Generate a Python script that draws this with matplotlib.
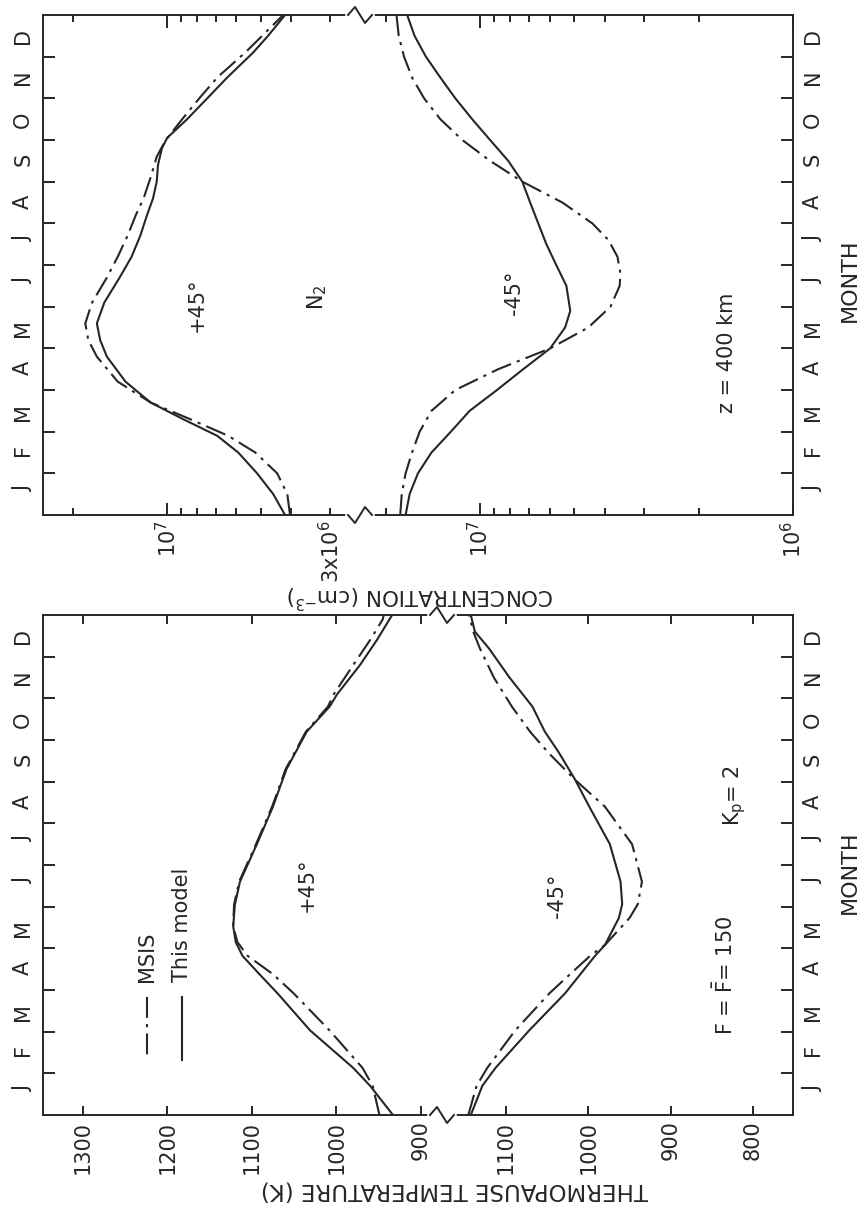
import numpy as np
import matplotlib.pyplot as plt
from matplotlib.lines import Line2D
from matplotlib.ticker import FixedLocator, FuncFormatter, NullFormatter

W, H = 864, 1210
INK = "#262626"
FS = 15

month_labels = ["J", "F", "M", "A", "M", "J", "J", "A", "S", "O", "N", "D"]

# N2 concentration at 400 km (cm^-3); month axis runs 0 (start of Jan) .. 12
n2_north_model_m = [0, 0.5, 1.0, 1.5, 1.9, 2.3, 2.7, 3.2, 3.8, 4.2, 4.6, 5.1, 5.7, 6.2,
                    6.7, 7.2, 7.6, 8.0, 8.4, 8.8, 9.05, 9.5, 10.0, 10.5, 11.1, 11.5, 12]
n2_north_model = [4.19e6, 4.57e6, 5.15e6, 5.92e6, 6.91e6, 8.89e6, 1.13e7, 1.36e7, 1.56e7,
                  1.64e7, 1.68e7, 1.59e7, 1.42e7, 1.30e7, 1.22e7, 1.16e7, 1.11e7, 1.08e7,
                  1.07e7, 1.04e7, 1.00e7, 8.63e6, 7.44e6, 6.42e6, 5.30e6, 4.75e6, 4.19e6]

n2_north_msis_m = [0, 0.5, 1.0, 1.5, 1.9, 2.3, 2.7, 3.2, 3.8, 4.2, 4.6, 5.1, 5.7, 6.2,
                   6.7, 7.2, 7.6, 8.1, 8.6, 9.0, 9.5, 10.0, 10.5, 11.1, 11.5, 12]
n2_north_msis = [4.04e6, 4.12e6, 4.44e6, 5.22e6, 6.37e6, 8.44e6, 1.13e7, 1.44e7, 1.68e7,
                 1.79e7, 1.83e7, 1.74e7, 1.56e7, 1.44e7, 1.34e7, 1.26e7, 1.19e7, 1.13e7,
                 1.08e7, 1.01e7, 8.95e6, 7.89e6, 6.91e6, 5.62e6, 4.96e6, 4.25e6]

n2_south_model_m = [0, 0.5, 1.0, 1.5, 2.0, 2.5, 3.0, 3.5, 4.0, 4.5, 4.9, 5.5, 6.0, 6.5,
                    7.0, 7.5, 8.0, 8.5, 9.0, 9.5, 10.0, 10.5, 11.0, 11.5, 12]
n2_south_model = [1.73e7, 1.68e7, 1.58e7, 1.43e7, 1.24e7, 1.08e7, 8.83e6, 7.28e6, 5.97e6,
                  5.35e6, 5.15e6, 5.30e6, 5.71e6, 6.14e6, 6.52e6, 6.92e6, 7.33e6, 8.13e6,
                  9.29e6, 1.06e7, 1.20e7, 1.34e7, 1.49e7, 1.62e7, 1.71e7]

n2_south_msis_m = [0, 0.5, 1.0, 1.5, 2.0, 2.5, 3.0, 3.5, 4.0, 4.5, 5.0, 5.5, 5.8, 6.2,
                   6.6, 7.0, 7.5, 8.0, 8.5, 9.0, 9.5, 10.0, 10.5, 11.0, 11.5, 12]
n2_south_msis = [1.80e7, 1.78e7, 1.73e7, 1.65e7, 1.56e7, 1.43e7, 1.20e7, 8.75e6, 5.97e6,
                 4.51e6, 3.83e6, 3.58e6, 3.56e6, 3.64e6, 3.89e6, 4.38e6, 5.46e6, 7.33e6,
                 9.29e6, 1.14e7, 1.34e7, 1.51e7, 1.65e7, 1.75e7, 1.82e7, 1.85e7]

# thermopause temperature (K)
t_north_m = [0, 0.7, 1.13, 2.03, 2.93, 3.38, 3.82, 4.15, 4.53, 5.05, 5.6, 6.5, 7.4, 8.3,
             9.2, 9.8, 10.1, 10.8, 11.4, 11.9, 12]
t_north_model = [933, 960, 980, 1031, 1070, 1091, 1111, 1119, 1122, 1120, 1114, 1094,
                 1075, 1059, 1035, 1008, 999, 972, 952, 937, 934]
t_north_msis = [949, 957, 969, 1008, 1051, 1075, 1105, 1117, 1122, 1121, 1115, 1095,
                1076, 1060, 1036, 1010, 1003, 980, 960, 945, 944]

t_south_m = [0, 0.7, 1.13, 2.03, 2.93, 3.82, 4.08, 4.73, 5.06, 5.6, 6.5, 7.4, 8.04, 8.7,
             9.2, 9.8, 10.5, 11.2, 11.6, 12]
t_south_model = [1143, 1129, 1113, 1072, 1028, 992, 980, 963, 959, 961, 974, 999, 1016,
                 1036, 1053, 1068, 1096, 1121, 1138, 1143]
t_south_msis = [1146, 1136, 1123, 1089, 1047, 998, 980, 950, 940, 935, 947, 980, 1016,
                1049, 1071, 1093, 1115, 1132, 1140, 1145]

DASHDOT = (0, (10, 3, 1.5, 3))
LW = 1.5

plt.rcParams["font.family"] = "DejaVu Sans"
fig = plt.figure(figsize=(W / 100, H / 100), dpi=100)


def px(x, y):
    return x / W, 1 - y / H


def half_axes(x0, y0, x1, y1, xlim, side, log=False):
    ax = fig.add_axes([x0 / W, 1 - y1 / H, (x1 - x0) / W, (y1 - y0) / H])
    if log:
        ax.set_xscale("log")
    ax.set_xlim(*xlim)
    ax.set_ylim(0, 12)
    for s in ax.spines.values():
        s.set_linewidth(1.4)
        s.set_color(INK)
    ax.spines["right" if side == "left" else "left"].set_visible(False)

    # months along the vertical direction
    ax.yaxis.set_major_locator(FixedLocator(range(1, 12)))
    ax.yaxis.set_major_formatter(NullFormatter())
    ax.yaxis.set_minor_locator(FixedLocator(np.arange(12) + 0.5))
    ax.yaxis.set_minor_formatter(FuncFormatter(lambda v, p: month_labels[int(v)]))
    on_left = side == "left"
    ax.tick_params(axis="y", which="major", direction="in", length=8.5, width=1.4,
                   color=INK, left=on_left, right=not on_left,
                   labelleft=False, labelright=False)
    ax.tick_params(axis="y", which="minor", length=0, pad=7,
                   left=on_left, right=not on_left,
                   labelleft=on_left, labelright=not on_left,
                   labelsize=FS, labelrotation=90, labelcolor=INK)

    ax.tick_params(axis="x", which="both", direction="in", top=True, bottom=True,
                   labeltop=False, labelbottom=True, labelrotation=90,
                   labelsize=FS, pad=4, width=1.4, color=INK, labelcolor=INK)
    ax.tick_params(axis="x", which="major", length=9)
    ax.tick_params(axis="x", which="minor", length=5)
    return ax


def zigzag(xb, y, sign):
    fig.add_artist(Line2D([(xb - 12) / W, (xb + 12) / W], [1 - y / H] * 2,
                          transform=fig.transFigure, color="white", lw=4, zorder=5))
    xs = [xb - 12, xb - 5, xb + 5, xb + 12]
    ys = [y, y - 8 * sign, y + 8 * sign, y]
    fig.add_artist(Line2D([x / W for x in xs], [1 - v / H for v in ys],
                          transform=fig.transFigure, color=INK, lw=1.4, zorder=6))


def label(x, y, s, rot=90, size=FS, **kw):
    fig.text(*px(x, y), s, rotation=rot, ha="center", va="center",
             fontsize=size, color=INK, **kw)


# ---- N2 concentration panel ----
n2_l = half_axes(43, 15, 360, 515, (2.5e7, 2.41e6), "left", log=True)
n2_r = half_axes(360, 15, 793, 515, (2.42e7, 1.0e6), "right", log=True)

n2_l.xaxis.set_major_locator(FixedLocator([1e7]))
n2_l.xaxis.set_major_formatter(FuncFormatter(lambda v, p: "10$^7$"))
n2_l.xaxis.set_minor_locator(FixedLocator([2e7, 9e6, 8e6, 7e6, 6e6, 5e6, 4e6, 3e6]))
n2_l.xaxis.set_minor_formatter(
    FuncFormatter(lambda v, p: "3x10$^6$" if abs(v - 3e6) < 1 else ""))

n2_r.xaxis.set_major_locator(FixedLocator([1e7, 1e6]))
n2_r.xaxis.set_major_formatter(
    FuncFormatter(lambda v, p: "10$^%d$" % int(round(np.log10(v)))))
n2_r.xaxis.set_minor_locator(FixedLocator([2e7] + [k * 1e6 for k in range(9, 1, -1)]))
n2_r.xaxis.set_minor_formatter(NullFormatter())

n2_l.plot(n2_north_model, n2_north_model_m, color=INK, lw=LW)
n2_l.plot(n2_north_msis, n2_north_msis_m, color=INK, lw=LW, ls=DASHDOT)
n2_r.plot(n2_south_model, n2_south_model_m, color=INK, lw=LW)
n2_r.plot(n2_south_msis, n2_south_msis_m, color=INK, lw=LW, ls=DASHDOT)

# ---- temperature panel ----
t_l = half_axes(43, 615, 442, 1115, (1347, 875), "left")
t_r = half_axes(442, 615, 793, 1115, (1178, 751.4), "right")
t_l.xaxis.set_major_locator(FixedLocator([1300, 1200, 1100, 1000, 900]))
t_r.xaxis.set_major_locator(FixedLocator([1100, 1000, 900, 800]))
for ax in (t_l, t_r):
    ax.xaxis.set_minor_locator(FixedLocator([]))
    ax.tick_params(axis="x", which="major", length=6.5)

t_l.plot(t_north_model, t_north_m, color=INK, lw=LW)
t_l.plot(t_north_msis, t_north_m, color=INK, lw=LW, ls=DASHDOT)
t_r.plot(t_south_model, t_south_m, color=INK, lw=LW)
t_r.plot(t_south_msis, t_south_m, color=INK, lw=LW, ls=DASHDOT)

# axis breaks
zigzag(360, 15, 1)
zigzag(360, 515, -1)
zigzag(442, 615, 1)
zigzag(442, 1115, 1)

# key
fig.add_artist(Line2D([147 / W] * 2, [1 - 997 / H, 1 - 1060 / H], transform=fig.transFigure,
                      color=INK, lw=LW, ls=DASHDOT))
fig.add_artist(Line2D([182 / W] * 2, [1 - 997 / H, 1 - 1060 / H], transform=fig.transFigure,
                      color=INK, lw=LW))
fig.text(*px(147, 982), "MSIS", rotation=90, ha="center", va="bottom", fontsize=FS, color=INK)
fig.text(*px(182, 982), "This model", rotation=90, ha="center", va="bottom",
         fontsize=FS, color=INK)

# annotations
label(197, 305, "+45°")
label(317, 297, "N$_2$")
label(514, 293, "-45°")
label(727, 353, "z = 400 km")
label(307, 885, "+45°")
label(557, 896, "-45°")
label(725, 975, "F = $\\bar{\\mathrm{F}}$= 150")
label(735, 795, "K$_\\mathrm{p}$= 2")

label(850, 280, "MONTH", size=16)
label(850, 872, "MONTH", size=16)
label(420, 596, "CONCENTRATION (cm$^{-3}$)", rot=180, size=15.5)
label(454, 1190, "THERMOPAUSE TEMPERATURE (K)", rot=180, size=16.5)

fig.savefig("out.png", dpi=100, facecolor="white")
